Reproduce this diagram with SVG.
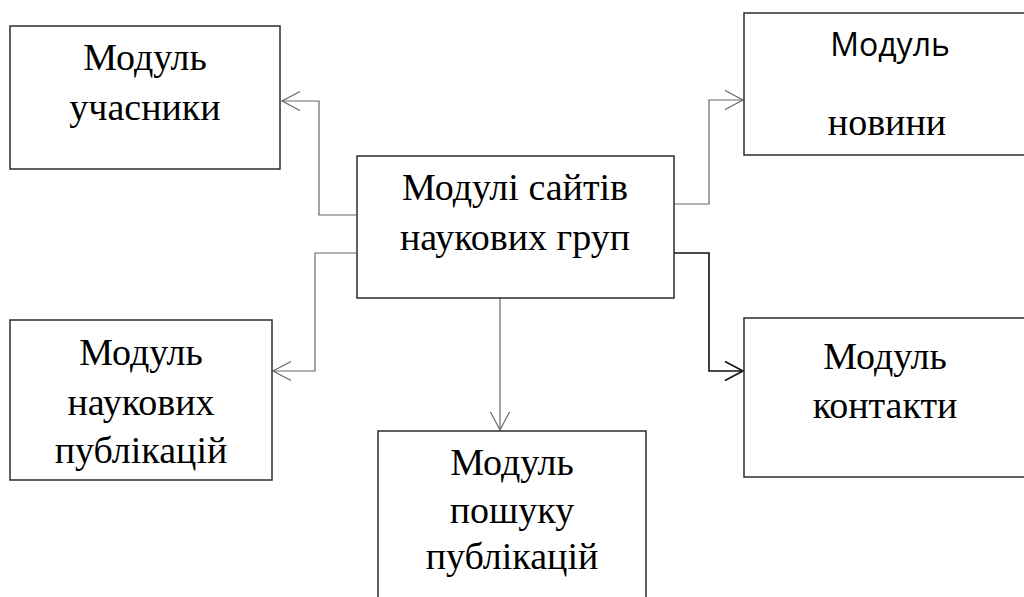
<svg xmlns="http://www.w3.org/2000/svg" width="1024" height="597" viewBox="0 0 1024 597">
  <defs>
    <style>
      .box { fill: #ffffff; stroke: #2b2b2b; stroke-width: 1.5; }
      .lbl { font-family: "Liberation Serif", "Times New Roman", serif; font-size: 38px; fill: #000; text-anchor: middle; }
      .lbl-sans { font-family: "Open Sans", "Noto Sans", "DejaVu Sans", sans-serif; font-size: 32px; fill: #000; text-anchor: middle; }
      .conn { fill: none; stroke: #666666; stroke-width: 1.2; }
      .conn-dark { fill: none; stroke: #111111; stroke-width: 1.6; }
    </style>
    <marker id="open-arrow" viewBox="-21 -11 22 22" markerWidth="22" markerHeight="22" refX="0" refY="0" orient="auto" markerUnits="userSpaceOnUse" overflow="visible">
      <path d="M-18,-9.5 L0,0 L-18,9.5" fill="none" stroke="#666666" stroke-width="1.2"/>
    </marker>
    <marker id="open-arrow-dark" viewBox="-21 -11 22 22" markerWidth="22" markerHeight="22" refX="0" refY="0" orient="auto" markerUnits="userSpaceOnUse" overflow="visible">
      <path d="M-18,-9.5 L0,0 L-18,9.5" fill="none" stroke="#111111" stroke-width="1.6"/>
    </marker>
  </defs>

  <rect width="1024" height="597" fill="#ffffff"/>

  <!-- connectors from the central block -->
  <g id="connectors">
    <polyline class="conn" points="357,215 319,215 319,101 282,101" marker-end="url(#open-arrow)"/>
    <polyline class="conn" points="357,253 315,253 315,371 273,371" marker-end="url(#open-arrow)"/>
    <polyline class="conn" points="674,204 709,204 709,100 743,100" marker-end="url(#open-arrow)"/>
    <polyline class="conn-dark" points="674,253 709,253 709,371 743,371" marker-end="url(#open-arrow-dark)"/>
    <line class="conn" x1="500" y1="298" x2="500" y2="430" marker-end="url(#open-arrow)"/>
  </g>

  <g id="node-center">
    <rect class="box" x="357" y="156" width="317" height="142"/>
    <text class="lbl" x="515" y="200">Модулі сайтів</text>
    <text class="lbl" x="515" y="250">наукових груп</text>
  </g>

  <g id="node-members">
    <rect class="box" x="10" y="26" width="270" height="143"/>
    <text class="lbl" x="145" y="70">Модуль</text>
    <text class="lbl" x="145" y="120">учасники</text>
  </g>

  <g id="node-news">
    <rect class="box" x="744" y="13" width="290" height="142"/>
    <text class="lbl-sans" x="890" y="56">Модуль</text>
    <text class="lbl" x="887" y="135">новини</text>
  </g>

  <g id="node-publications">
    <rect class="box" x="10" y="320" width="262" height="160"/>
    <text class="lbl" x="141" y="365">Модуль</text>
    <text class="lbl" x="141" y="415">наукових</text>
    <text class="lbl" x="141" y="463">публікацій</text>
  </g>

  <g id="node-contacts">
    <rect class="box" x="744" y="318" width="290" height="159"/>
    <text class="lbl" x="885" y="369">Модуль</text>
    <text class="lbl" x="885" y="418">контакти</text>
  </g>

  <g id="node-search">
    <rect class="box" x="378" y="431" width="268" height="180"/>
    <text class="lbl" x="512" y="475">Модуль</text>
    <text class="lbl" x="512" y="523">пошуку</text>
    <text class="lbl" x="512" y="569">публікацій</text>
  </g>
</svg>
